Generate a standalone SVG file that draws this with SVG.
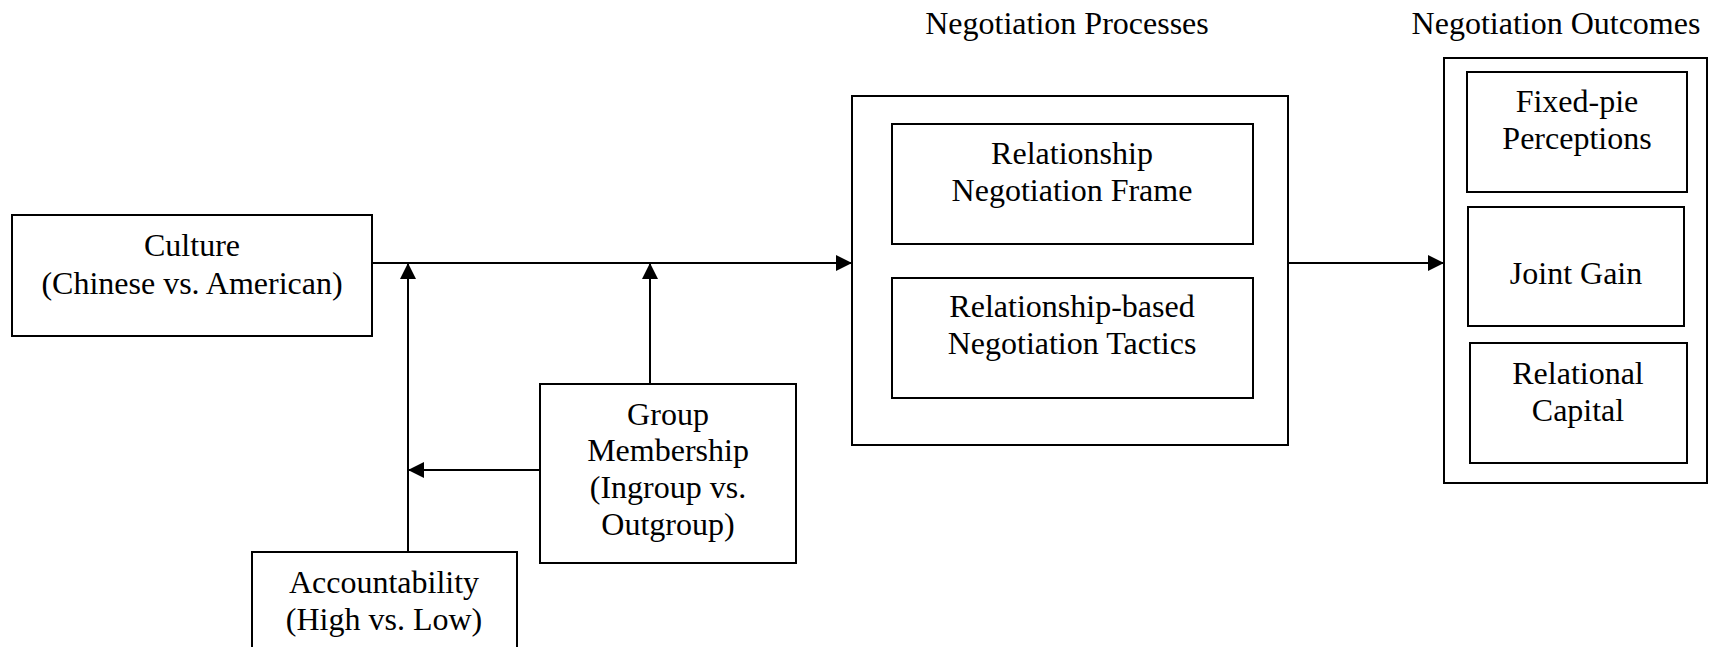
<svg xmlns="http://www.w3.org/2000/svg" width="1711" height="647" viewBox="0 0 1711 647">
  <style>
    .box { fill: #ffffff; stroke: #000000; stroke-width: 2; }
    .lbl { font-family: "Liberation Serif", "Times New Roman", serif; font-size: 32px; fill: #000000; text-anchor: middle; }
    .wire { fill: none; stroke: #000000; stroke-width: 2; }
  </style>
  <defs>
    <marker id="arrow" viewBox="0 0 16 16" refX="16" refY="8" markerWidth="16" markerHeight="16" markerUnits="userSpaceOnUse" orient="auto">
      <path d="M0,0 L16,8 L0,16 Z" fill="#000000"/>
    </marker>
  </defs>
  <rect width="1711" height="647" fill="#ffffff"/>

  <!-- column headings -->
  <text class="lbl" x="1067" y="34">Negotiation Processes</text>
  <text class="lbl" x="1556" y="34">Negotiation Outcomes</text>

  <g id="culture">
    <rect class="box" x="12" y="215" width="360" height="121"/>
    <text class="lbl" x="192" y="256">Culture</text>
    <text class="lbl" x="192" y="294">(Chinese vs. American)</text>
  </g>

  <g id="group-membership">
    <rect class="box" x="540" y="384" width="256" height="179"/>
    <text class="lbl" x="668" y="425">Group</text>
    <text class="lbl" x="668" y="461">Membership</text>
    <text class="lbl" x="668" y="498">(Ingroup vs.</text>
    <text class="lbl" x="668" y="535">Outgroup)</text>
  </g>

  <g id="accountability">
    <rect class="box" x="252" y="552" width="265" height="110"/>
    <text class="lbl" x="384" y="593">Accountability</text>
    <text class="lbl" x="384" y="630">(High vs. Low)</text>
  </g>

  <g id="processes">
    <rect class="box" x="852" y="96" width="436" height="349"/>
    <g id="negotiation-frame">
      <rect class="box" x="892" y="124" width="361" height="120"/>
      <text class="lbl" x="1072" y="164">Relationship</text>
      <text class="lbl" x="1072" y="201">Negotiation Frame</text>
    </g>
    <g id="negotiation-tactics">
      <rect class="box" x="892" y="278" width="361" height="120"/>
      <text class="lbl" x="1072" y="317">Relationship-based</text>
      <text class="lbl" x="1072" y="354">Negotiation Tactics</text>
    </g>
  </g>

  <g id="outcomes">
    <rect class="box" x="1444" y="58" width="263" height="425"/>
    <g id="fixed-pie">
      <rect class="box" x="1467" y="72" width="220" height="120"/>
      <text class="lbl" x="1577" y="112">Fixed-pie</text>
      <text class="lbl" x="1577" y="149">Perceptions</text>
    </g>
    <g id="joint-gain">
      <rect class="box" x="1468" y="207" width="216" height="119"/>
      <text class="lbl" x="1576" y="284">Joint Gain</text>
    </g>
    <g id="relational-capital">
      <rect class="box" x="1470" y="343" width="217" height="120"/>
      <text class="lbl" x="1578" y="384">Relational</text>
      <text class="lbl" x="1578" y="421">Capital</text>
    </g>
  </g>

  <g id="connectors">
    <line class="wire" x1="372" y1="263" x2="852" y2="263" marker-end="url(#arrow)"/>
    <line class="wire" x1="408" y1="552" x2="408" y2="263" marker-end="url(#arrow)"/>
    <line class="wire" x1="650" y1="384" x2="650" y2="263" marker-end="url(#arrow)"/>
    <line class="wire" x1="540" y1="470" x2="408" y2="470" marker-end="url(#arrow)"/>
    <line class="wire" x1="1288" y1="263" x2="1444" y2="263" marker-end="url(#arrow)"/>
  </g>
</svg>
